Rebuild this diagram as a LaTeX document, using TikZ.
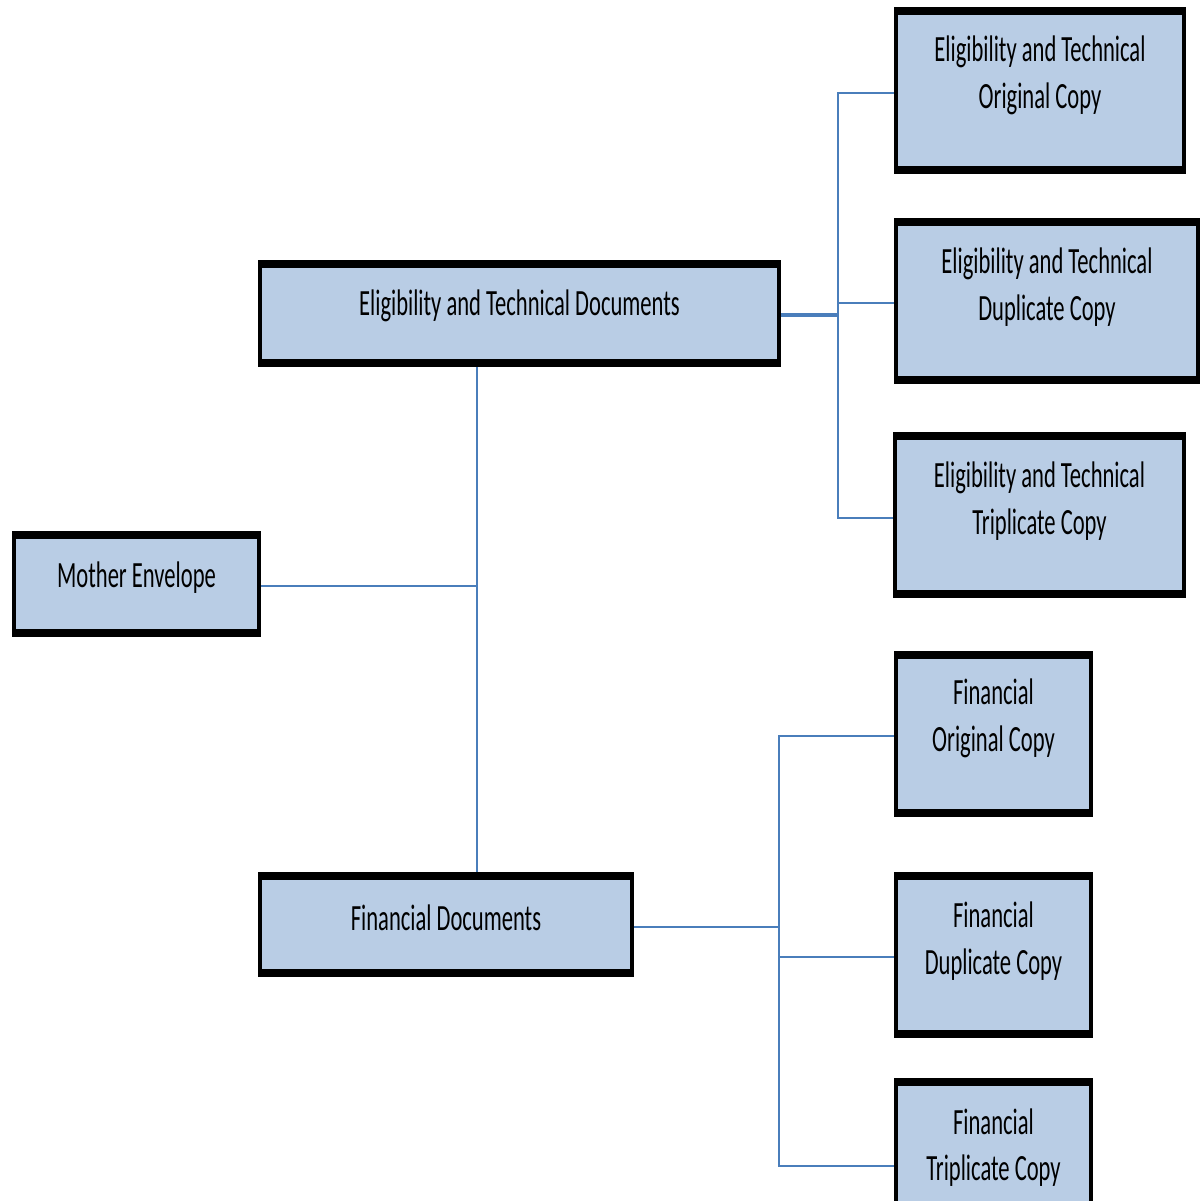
\documentclass[tikz,border=0pt]{standalone}
\usepackage{fontspec}
\setmainfont[FakeStretch=0.61]{Carlito}
\usetikzlibrary{backgrounds}
\definecolor{boxfill}{RGB}{185,205,229}
\definecolor{linkblue}{RGB}{74,126,187}
\begin{document}
\begin{tikzpicture}[x=1pt,y=-1pt,
  box/.style={draw=black, fill=boxfill, line width=4pt, inner sep=0pt, outer sep=0pt},
  txt/.style={align=center, font=\fontsize{37}{46.5}\selectfont, text=black},
  conn/.style={draw=linkblue, line width=2pt},
  thickedge/.style={line width=8pt, shorten <=-2pt, shorten >=-2pt}]
\useasboundingbox (0,0) rectangle (1201,1200);
% boxes
\node[box, minimum width=245pt, minimum height=98pt,
  label={[txt, yshift=6pt]center:Mother Envelope}] (ME) at (136.5,584) {};
\node[box, minimum width=519pt, minimum height=99pt,
  label={[txt, yshift=8pt]center:Eligibility and Technical Documents}] (ETD) at (519.5,313.5) {};
\node[box, minimum width=372pt, minimum height=97pt,
  label={[txt, yshift=7pt]center:Financial Documents}] (FD) at (446,924.5) {};
\node[box, minimum width=288pt, minimum height=159pt,
  label={[txt, yshift=15pt]center:Eligibility and Technical\\Original Copy}] (ETO) at (1040,90.5) {};
\node[box, minimum width=302pt, minimum height=158pt,
  label={[txt, yshift=14pt]center:Eligibility and Technical\\Duplicate Copy}] (ETU) at (1047,301) {};
\node[box, minimum width=289pt, minimum height=158pt,
  label={[txt, yshift=14pt]center:Eligibility and Technical\\Triplicate Copy}] (ETT) at (1039.5,515) {};
\node[box, minimum width=195pt, minimum height=158pt,
  label={[txt, yshift=15.5pt]center:Financial\\Original Copy}] (FO) at (993.5,734) {};
\node[box, minimum width=195pt, minimum height=158pt,
  label={[txt, yshift=14pt]center:Financial\\Duplicate Copy}] (FU) at (993.5,955) {};
\node[box, minimum width=195pt, minimum height=162pt,
  label={[txt, yshift=15.5pt]center:Financial\\Triplicate Copy}] (FT) at (993.5,1163) {};
% heavier top and bottom edges
\foreach \n in {ME,ETD,FD,ETO,ETU,ETT,FO,FU,FT}{
  \draw[thickedge] (\n.north west) -- (\n.north east);
  \draw[thickedge] (\n.south west) -- (\n.south east);
}
% connectors
\coordinate (tr) at (477,0);
\coordinate (b1) at (838,0);
\coordinate (b2) at (779,0);
\begin{scope}[on background layer]
\draw[conn] (ETD.south -| tr) -- (FD.north -| tr);
\draw[conn] ([yshift=-2pt]ME.east) -- ([yshift=-2pt]ME.east -| tr);
\draw[conn, line width=3.5pt] ([yshift=-1.5pt]ETD.east) -- ([yshift=-1.5pt]ETD.east -| b1);
\draw[conn] ([yshift=-2pt]ETO.west) -- ([yshift=-2pt]ETO.west -| b1) -- ([yshift=-3pt]ETT.west -| b1) -- ([yshift=-3pt]ETT.west);
\draw[conn] ([yshift=-2pt]ETU.west) -- ([yshift=-2pt]ETU.west -| b1);
\draw[conn] ([yshift=-2pt]FD.east) -- ([yshift=-2pt]FD.east -| b2);
\draw[conn] ([yshift=-2pt]FO.west) -- ([yshift=-2pt]FO.west -| b2) -- ([yshift=-3pt]FT.west -| b2) -- ([yshift=-3pt]FT.west);
\draw[conn] ([yshift=-2pt]FU.west) -- ([yshift=-2pt]FU.west -| b2);
\end{scope}
\end{tikzpicture}
\end{document}
